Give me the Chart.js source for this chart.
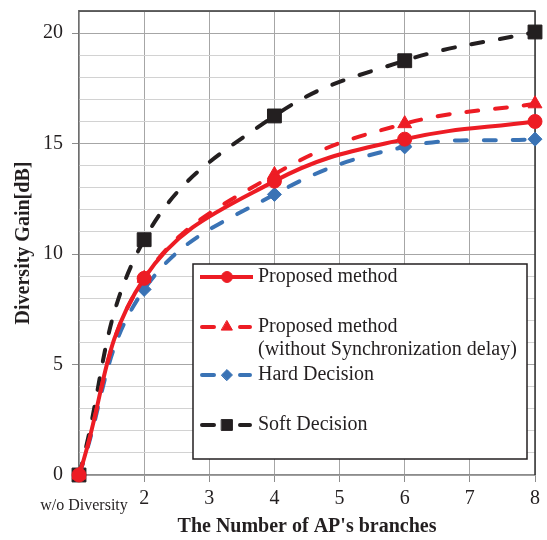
<!DOCTYPE html>
<html>
<head>
<meta charset="utf-8">
<script src="https://cdn.jsdelivr.net/npm/chart.js@4/dist/chart.umd.min.js"></script>
<style>
  html, body { margin: 0; padding: 0; background: #ffffff; }
  #wrap { width: 547px; height: 540px; position: relative; }
</style>
</head>
<body>
<div id="wrap"><canvas id="c" width="547" height="540"></canvas></div>
<script>
// Number of AP branches (1 = no diversity)
const branches = [1, 2, 4, 6, 8];

// Diversity gain [dB] per method
const proposed       = [0, 8.9, 13.3, 15.2, 16.0];
const proposedNoSync = [0, 8.9, 13.6, 15.9, 16.8];
const hardDecision   = [0, 8.4, 12.7, 14.85, 15.2];
const softDecision   = [0, 10.65, 16.25, 18.75, 20.05];

const seriesNames = [
  ['Proposed method'],
  ['Proposed method', '(without Synchronization delay)'],
  ['Hard Decision'],
  ['Soft Decision']
];
const xTickLabels = ['w/o Diversity', '2', '3', '4', '5', '6', '7', '8'];
const yTickLabels = ['0', '5', '10', '15', '20'];

const SERIF = '"Liberation Serif", "Times New Roman", serif';
const INK = '#231f20';
const RED = '#ed1c24';
const BLUE = '#3a73b5';
const BLACK = '#231f20';

function toPoints(ys) {
  return branches.map((x, i) => ({ x: x, y: ys[i] }));
}

function series(name, ys, color, dashed, style, radius) {
  return {
    label: name.join(' '),
    data: toPoints(ys),
    borderColor: color,
    backgroundColor: color,
    borderWidth: 4,
    borderDash: dashed ? [12, 17] : [],
    borderCapStyle: dashed ? 'round' : 'butt',
    tension: 0.4,
    pointStyle: style,
    pointRadius: radius,
    pointHoverRadius: radius,
    pointBorderWidth: 1,
    pointBorderColor: color,
    pointBackgroundColor: color,
    clip: false,
    fill: false
  };
}

const datasets = [
  series(seriesNames[0], proposed, RED, false, 'circle', 7),
  series(seriesNames[1], proposedNoSync, RED, true, 'triangle', 8),
  series(seriesNames[2], hardDecision, BLUE, true, 'rectRot', 7),
  series(seriesNames[3], softDecision, BLACK, true, 'rect', 9.8)
];

// Dark frame on the top and right edges of the plot area
const plotFrame = {
  id: 'plotFrame',
  beforeDatasetsDraw(chart) {
    const { ctx, chartArea: a } = chart;
    ctx.save();
    ctx.strokeStyle = '#333333';
    ctx.lineWidth = 1.5;
    ctx.beginPath();
    ctx.moveTo(a.left, a.top);
    ctx.lineTo(a.right, a.top);
    ctx.lineTo(a.right, a.bottom);
    ctx.stroke();
    ctx.restore();
  }
};

function drawMarker(ctx, style, radius, x, y) {
  if (Chart.helpers && Chart.helpers.drawPoint) {
    Chart.helpers.drawPoint(ctx, { pointStyle: style, radius: radius, rotation: 0, borderWidth: 1 }, x, y);
    return;
  }
  ctx.beginPath();
  ctx.arc(x, y, radius, 0, Math.PI * 2);
  ctx.fill();
}

// First x label sits a little lower and in a smaller font
const firstXLabel = {
  id: 'firstXLabel',
  afterDraw(chart) {
    const { ctx } = chart;
    const xs = chart.scales.x;
    ctx.save();
    ctx.font = '16px ' + SERIF;
    ctx.fillStyle = INK;
    ctx.textAlign = 'center';
    ctx.textBaseline = 'middle';
    ctx.fillText(xTickLabels[0], xs.getPixelForValue(1) + 5, xs.top + 31);
    ctx.restore();
  }
};

// Boxed legend inside the plot area
const legendBox = {
  id: 'legendBox',
  afterDraw(chart) {
    const { ctx, chartArea: a } = chart;
    const x0 = a.left + 114, y0 = a.top + 253, w = 334, h = 195;
    ctx.save();
    ctx.fillStyle = '#ffffff';
    ctx.fillRect(x0, y0, w, h);
    ctx.strokeStyle = INK;
    ctx.lineWidth = 1.5;
    ctx.strokeRect(x0, y0, w, h);

    const rowY = [y0 + 13, y0 + 63, y0 + 111, y0 + 161];
    chart.data.datasets.forEach((ds, i) => {
      const y = rowY[i];
      ctx.strokeStyle = ds.borderColor;
      ctx.fillStyle = ds.backgroundColor;
      ctx.lineWidth = 4;
      ctx.setLineDash([]);
      ctx.beginPath();
      if (ds.borderDash.length) {
        ctx.lineCap = 'round';
        ctx.moveTo(x0 + 9, y); ctx.lineTo(x0 + 21, y);
        ctx.moveTo(x0 + 47, y); ctx.lineTo(x0 + 57, y);
      } else {
        ctx.lineCap = 'butt';
        ctx.moveTo(x0 + 7, y); ctx.lineTo(x0 + 60, y);
      }
      ctx.stroke();
      ctx.lineWidth = 1;
      drawMarker(ctx, ds.pointStyle, ds.pointRadius * 0.78, x0 + 34, y);

      ctx.fillStyle = INK;
      ctx.font = '20px ' + SERIF;
      ctx.textAlign = 'left';
      ctx.textBaseline = 'middle';
      seriesNames[i].forEach((line, k) => {
        ctx.fillText(line, x0 + 65, y + k * 23);
      });
    });
    ctx.restore();
  }
};

new Chart(document.getElementById('c'), {
  type: 'line',
  data: { datasets: datasets },
  plugins: [plotFrame, firstXLabel, legendBox],
  options: {
    responsive: false,
    animation: false,
    devicePixelRatio: 1,
    layout: { padding: { top: 11, right: 12, left: 0, bottom: 0 } },
    plugins: {
      legend: { display: false },
      tooltip: { enabled: false },
      title: { display: false }
    },
    scales: {
      x: {
        type: 'linear',
        min: 1,
        max: 8,
        afterFit(s) { s.height = 65; s.paddingLeft = 0; s.paddingRight = 0; },
        ticks: {
          stepSize: 1,
          padding: 5,
          color: INK,
          font: { family: SERIF, size: 20 },
          maxRotation: 0,
          autoSkip: false,
          callback: v => (v === 1 ? '' : (xTickLabels[v - 1] || ''))
        },
        grid: {
          color: '#a6a6a6',
          lineWidth: 1,
          tickLength: 7,
          tickColor: '#8c8c8c'
        },
        border: { color: '#8c8c8c', width: 1.2 },
        title: {
          display: true,
          text: "The Number of AP's branches",
          color: INK,
          font: { family: SERIF, size: 20, weight: 'bold' },
          padding: { top: 0, bottom: 1 }
        }
      },
      y: {
        type: 'linear',
        min: 0,
        max: 21,
        afterFit(s) { s.width = 79; s.paddingTop = 0; s.paddingBottom = 0; },
        ticks: {
          stepSize: 1,
          padding: 9,
          color: INK,
          font: { family: SERIF, size: 20 },
          autoSkip: false,
          callback: v => (yTickLabels.includes(String(v)) ? String(v) : '')
        },
        grid: {
          color: ctx => (ctx.tick && ctx.tick.value % 5 === 0 ? '#a6a6a6' : '#d2d2d2'),
          lineWidth: 1,
          tickLength: 7,
          tickColor: ctx => (ctx.tick && ctx.tick.value % 5 === 0 ? '#8c8c8c' : 'rgba(0,0,0,0)')
        },
        border: { color: '#6e6e6e', width: 1.2 },
        title: {
          display: true,
          text: 'Diversity Gain[dB]',
          color: INK,
          font: { family: SERIF, size: 20, weight: 'bold' },
          padding: { top: 12, bottom: 0 }
        }
      }
    }
  }
});
</script>
</body>
</html>
